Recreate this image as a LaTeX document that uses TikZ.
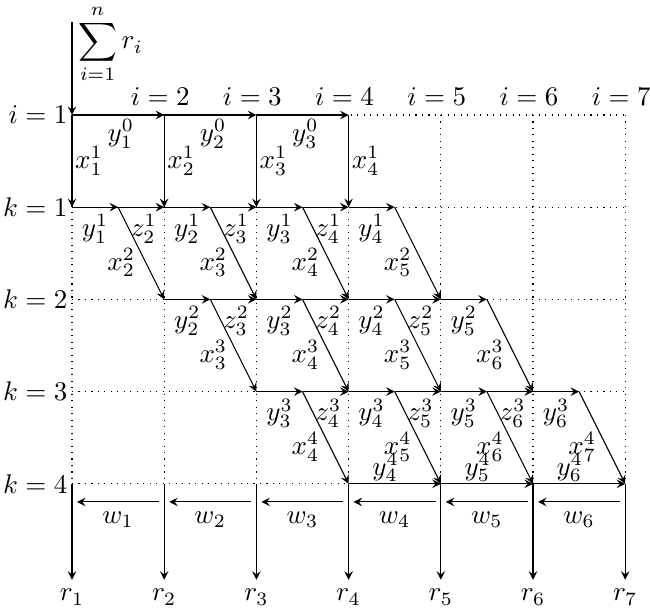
\documentclass[tikz,border=0pt]{standalone}
\begin{document}
\begin{tikzpicture}[>=stealth, x=1.2cm, y=1.2cm,
  gridline/.style={dotted},
  sidelabel/.style={left, inner sep=1.5pt}]
\useasboundingbox (-0.781,-5.369) rectangle (6.269,1.247);
% grid points (row k, column j) and half-way points
\foreach \k in {0,...,4}{
  \foreach \j in {1,...,7}{
    \coordinate (p-\k-\j) at (\j-1,-\k);
    \coordinate (m-\k-\j) at (\j-0.5,-\k);
  }
}
% dotted grid
\foreach \k in {0,...,4} \draw[gridline] (p-\k-1) -- (p-\k-7);
\foreach \j in {1,...,7} \draw[gridline] (p-0-\j) -- (p-4-\j);
% input
\coordinate (top) at (0,1.01);
\node[anchor=west, inner sep=0pt] (sum) at (0.06,0.77) {$\displaystyle\sum_{i=1}^{n} r_i$};
\draw[->] (top) -- (p-0-1);
% row and column labels
\node[sidelabel] (lab-i1) at (p-0-1) {$i=1$};
\foreach \k in {1,...,4} \node[sidelabel] (lab-k\k) at (p-\k-1) {$k=\k$};
\foreach \j in {2,...,7} \node[above, xshift=-1.5pt] (lab-i\j) at (p-0-\j) {$i=\j$};
% first row
\foreach \j in {1,2,3}{
  \pgfmathtruncatemacro\n{\j+1}
  \draw[->] (p-0-\j) -- node[pos=0.53, below, inner sep=1.5pt] (y-0-\j) {$y_{\j}^{0}$} (p-0-\n);
}
\foreach \j in {1,...,4}
  \draw[->] (p-0-\j) -- node[right, inner sep=1pt] (x-1-\j) {$x_{\j}^{1}$} (p-1-\j);
% rows k=1..3
\foreach \k in {1,2,3}{
  \pgfmathtruncatemacro\kk{\k+1}
  \pgfmathtruncatemacro\last{\k+3}
  \pgfmathtruncatemacro\zlast{\k+2}
  \foreach \j in {\k,...,\last}{
    \pgfmathtruncatemacro\n{\j+1}
    \draw[->] (p-\k-\j) -- node[below, inner sep=2.5pt] (y-\k-\j) {$y_{\j}^{\k}$} (m-\k-\j);
    \draw[->] (m-\k-\j) -- node[pos=0.6, left=0.5pt] (x-\kk-\n) {$x_{\n}^{\kk}$} (p-\kk-\n);
  }
  \foreach \j in {\k,...,\zlast}{
    \pgfmathtruncatemacro\n{\j+1}
    \draw[->] (m-\k-\j) -- node[below, inner sep=2.5pt, xshift=1pt] (z-\k-\n) {$z_{\n}^{\k}$} (p-\k-\n);
  }
}
% last row
\foreach \j in {4,5,6}{
  \pgfmathtruncatemacro\n{\j+1}
  \draw[->] (p-4-\j) -- node[pos=0.4, above, inner sep=0.5pt] (y-4-\j) {$y_{\j}^{4}$} (p-4-\n);
}
% outputs
\foreach \j in {1,...,7}{
  \node (r-\j) at (\j-1,-5.23) {$r_{\j}$};
  \draw[->] (p-4-\j) -- (r-\j);
}
\foreach \j in {1,...,6}{
  \coordinate (wa-\j) at (\j-0.056,-4.197);
  \coordinate (wb-\j) at (\j-0.946,-4.197);
  \draw[->] (wa-\j) -- node[below] (w-\j) {$w_{\j}$} (wb-\j);
}
\end{tikzpicture}
\end{document}
